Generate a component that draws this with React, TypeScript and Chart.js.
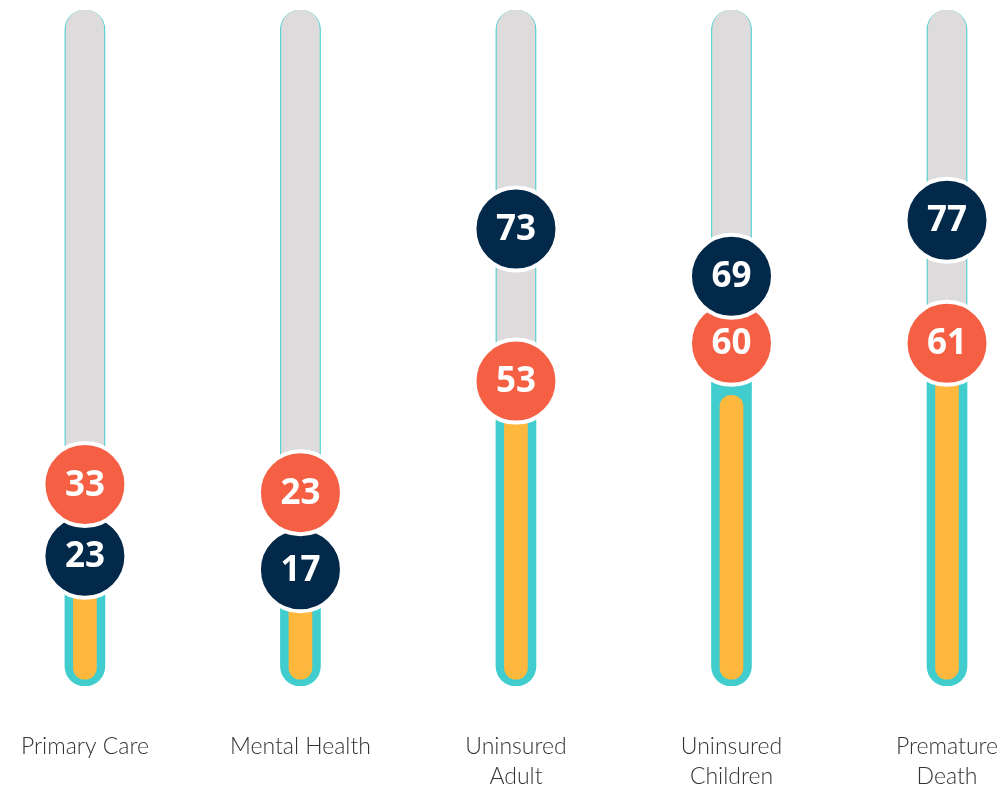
import React, { useEffect, useRef } from "react";
import { Chart, registerables } from "chart.js";

Chart.register(...registerables);

// ---- data ----
const categories: (string | string[])[] = [
  "Primary Care",
  "Mental Health",
  ["Uninsured", "Adult"],
  ["Uninsured", "Children"],
  ["Premature", "Death"],
];
const navyLabels = [23, 17, 73, 69, 77];
const coralLabels = [33, 23, 53, 60, 61];
// marker positions on the 0-100 track scale
const navyPositions = [19.2, 17.2, 67.6, 60.6, 68.9];
const coralPositions = [29.8, 28.6, 45.1, 50.7, 50.7];
// inner fill bar values
const fillValues = [25, 24, 46, 43, 50];
const trackMin = 0;
const trackMax = 100;
const fillStart = 1;

const NAVY = "#03294a";
const CORAL = "#f55f44";
const TEAL = "#41cdcd";
const GRAY = "#dddbdb";
const YELLOW = "#feb83e";

export default function App() {
  const ref = useRef<HTMLCanvasElement | null>(null);

  useEffect(() => {
    if (!ref.current) return;
    const idx = categories.map((_, i) => i);

    const markerPts: { x: number; y: number }[] = [];
    const markerColors: string[] = [];
    const markerLabels: number[] = [];
    idx.forEach((i) => {
      const items = [
        { y: navyPositions[i], label: navyLabels[i], color: NAVY },
        { y: coralPositions[i], label: coralLabels[i], color: CORAL },
      ].sort((a, b) => a.y - b.y);
      items.forEach((it) => {
        markerPts.push({ x: i, y: it.y });
        markerColors.push(it.color);
        markerLabels.push(it.label);
      });
    });

    const labelPlugin = {
      id: "markerLabels",
      afterDatasetsDraw(chart: any) {
        const meta = chart.getDatasetMeta(0);
        const ctx = chart.ctx;
        ctx.save();
        ctx.fillStyle = "#ffffff";
        ctx.font = "bold 35px 'Open Sans', 'Noto Sans', sans-serif";
        ctx.textAlign = "center";
        ctx.textBaseline = "middle";
        meta.data.forEach((el: any, k: number) => {
          ctx.fillText(String(markerLabels[k]), el.x, el.y + 1);
        });
        ctx.restore();
      },
    };

    const chart = new Chart(ref.current, {
      type: "bar",
      data: {
        datasets: [
          {
            type: "scatter",
            data: markerPts,
            order: 0,
            pointRadius: 41.5,
            pointHoverRadius: 41.5,
            pointBackgroundColor: markerColors,
            pointBorderColor: "#ffffff",
            pointBorderWidth: 4,
            pointHoverBorderWidth: 4,
            showLine: false,
            clip: false,
          } as any,
          {
            type: "bar",
            data: idx.map((i) => ({ x: i, y: [fillStart, fillValues[i]] })),
            order: 1,
            backgroundColor: YELLOW,
            barThickness: 23,
            borderRadius: 12,
            borderSkipped: false,
            grouped: false,
          } as any,
          {
            type: "bar",
            data: idx.map((i) => ({ x: i, y: [coralPositions[i], trackMax] })),
            order: 2,
            backgroundColor: GRAY,
            barThickness: 38,
            borderRadius: 19,
            borderSkipped: false,
            grouped: false,
          } as any,
          {
            type: "bar",
            data: idx.map((i) => ({ x: i, y: [trackMin, trackMax] })),
            order: 3,
            backgroundColor: TEAL,
            barThickness: 40,
            borderRadius: 20,
            borderSkipped: false,
            grouped: false,
          } as any,
        ],
      },
      options: {
        animation: false,
        responsive: false,
        layout: { autoPadding: false, padding: { top: 10, left: 0, right: 0, bottom: 0 } },
        plugins: {
          legend: { display: false },
          tooltip: { enabled: false },
        },
        scales: {
          x: {
            type: "linear",
            offset: false,
            min: -0.394,
            max: 4.283,
            grid: { display: false, offset: false, drawTicks: false },
            border: { display: false },
            afterBuildTicks: (scale: any) => {
              scale.ticks = idx.map((i) => ({ value: i }));
            },
            afterFit: (scale: any) => {
              scale.paddingLeft = 0;
              scale.paddingRight = 0;
              scale.paddingTop = 0;
              scale.paddingBottom = 0;
              scale.height = 104;
            },
            ticks: {
              autoSkip: false,
              maxRotation: 0,
              minRotation: 0,
              padding: 46,
              color: "#333333",
              font: { family: "Lato, 'Open Sans', sans-serif", size: 23, weight: "300", lineHeight: 1.3 },
              callback: (v: any) => categories[Math.round(Number(v))] as any,
            },
          },
          y: {
            display: false,
            min: trackMin,
            max: trackMax,
          },
        },
      } as any,
      plugins: [labelPlugin],
    });
    return () => chart.destroy();
  }, []);

  return (
    <canvas
      ref={ref}
      width={1008}
      height={790}
      style={{ position: "fixed", left: 0, top: 0, display: "block", width: 1008, height: 790 }}
    />
  );
}
